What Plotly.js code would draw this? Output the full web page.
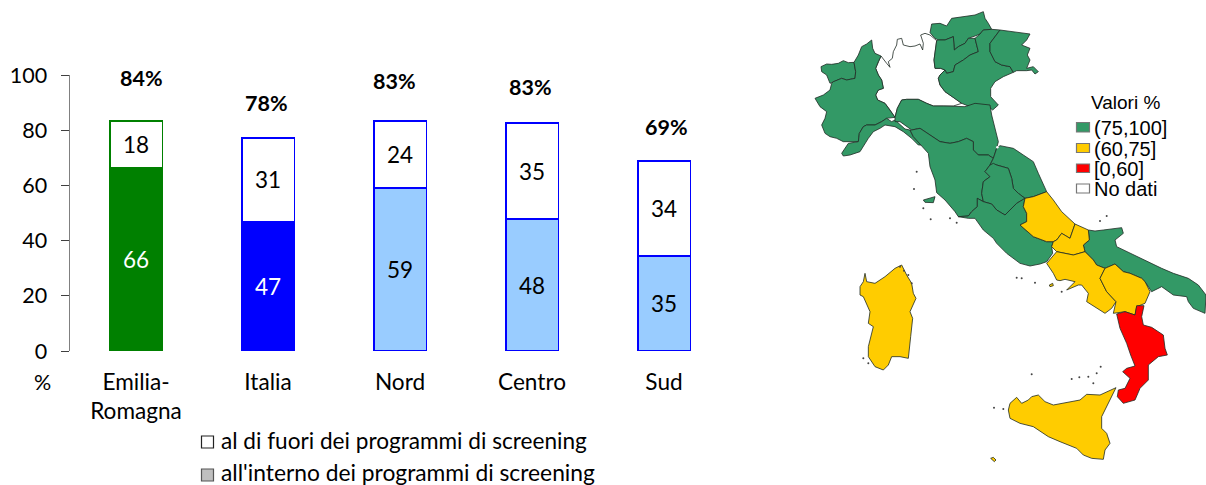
<!DOCTYPE html>
<html>
<head>
<meta charset="utf-8">
<script src="https://cdn.plot.ly/plotly-3.0.1.min.js"></script>
<style>html,body{margin:0;padding:0;background:#fff}#c{width:1206px;height:485px}</style>
</head>
<body>
<div id="c"></div>
<script>
// ---- chart data ----
const categories = ["Emilia-<br>Romagna", "Italia", "Nord", "Centro", "Sud"];
const interno = [66.3, 46.7, 59.0, 47.8, 34.4];
const fuori = [17.0, 30.6, 24.3, 34.8, 34.4];
const internoLabels = ["66", "47", "59", "48", "35"];
const fuoriLabels = ["18", "31", "24", "35", "34"];
const totalLabels = ["84%", "78%", "83%", "83%", "69%"];
const legendLabels = ["al di fuori dei programmi di screening", "all'interno dei programmi di screening"];
const mapLegendLabels = ["(75,100]", "(60,75]", "[0,60]", "No dati"];

// ---- map data: region outlines in map grid units ----
const aosta = [[63,200],[80,192],[95,193],[115,190],[130,182],[145,188],[162,187],[167,215],[165,235],[140,240],[125,235],[100,245],[90,250],[80,225],[65,215]];
const piemonte = [[215,120],[218,145],[225,160],[243,168],[235,185],[227,205],[235,225],[245,240],[250,265],[235,270],[227,285],[233,300],[255,310],[270,330],[285,352],[260,355],[245,365],[225,375],[200,375],[190,380],[178,400],[175,425],[150,425],[130,425],[110,415],[90,410],[75,400],[65,375],[75,355],[80,335],[60,320],[45,295],[70,285],[90,270],[95,250],[100,245],[125,235],[140,240],[165,235],[167,215],[162,187],[175,165],[185,140],[200,132]];
const liguria = [[125,460],[135,445],[145,430],[175,425],[178,400],[190,380],[200,375],[225,375],[245,365],[260,355],[275,365],[285,360],[300,375],[315,387],[330,390],[340,410],[365,435],[355,435],[335,415],[310,395],[285,380],[255,375],[240,385],[220,395],[205,415],[190,440],[180,455],[150,465],[130,468]];
const lombardia = [[243,168],[255,185],[260,190],[270,202],[265,185],[277,175],[280,155],[290,135],[292,118],[305,115],[310,135],[330,140],[345,138],[360,132],[368,150],[370,130],[362,105],[375,100],[390,105],[402,115],[410,122],[402,180],[405,205],[422,205],[435,210],[420,225],[415,235],[420,255],[435,275],[460,292],[485,310],[460,318],[430,318],[400,318],[380,310],[355,298],[320,298],[305,300],[292,325],[285,352],[270,330],[255,310],[233,300],[227,285],[235,270],[250,265],[245,240],[235,225],[227,205],[235,185]];
const bolzano = [[390,98],[395,72],[420,70],[440,78],[455,55],[485,50],[525,45],[550,35],[555,55],[565,70],[575,88],[550,90],[540,102],[525,108],[505,115],[495,130],[475,140],[463,150],[460,110],[435,120],[415,120],[405,115]];
const trento = [[410,122],[415,120],[435,120],[460,110],[463,150],[475,140],[495,130],[505,115],[525,115],[530,140],[535,155],[510,165],[490,180],[465,195],[460,215],[440,220],[435,210],[422,205],[405,205],[402,180]];
const veneto = [[435,210],[440,220],[460,215],[465,195],[490,180],[510,165],[535,155],[525,115],[540,102],[550,90],[575,88],[600,90],[585,110],[570,130],[570,155],[585,185],[605,195],[630,200],[640,217],[610,230],[585,245],[572,265],[572,290],[595,315],[578,330],[565,320],[540,313],[510,320],[485,310],[460,292],[435,275],[420,255],[415,235],[420,225]];
const friuli = [[600,90],[630,95],[660,98],[690,102],[680,120],[665,135],[690,145],[682,165],[690,180],[680,205],[700,200],[715,215],[705,222],[695,210],[680,212],[650,212],[640,217],[630,200],[605,195],[585,185],[570,155],[570,130],[585,110]];
const emilia = [[292,325],[305,300],[320,298],[355,298],[380,310],[400,318],[430,318],[460,318],[495,320],[525,310],[570,315],[575,345],[585,390],[595,425],[590,445],[580,475],[565,465],[535,465],[520,450],[520,425],[500,415],[475,425],[450,430],[420,425],[390,405],[360,385],[335,390],[320,380],[300,365],[285,365],[285,352]];
const toscana = [[335,390],[360,385],[390,405],[420,425],[450,430],[475,425],[500,415],[520,425],[520,450],[535,465],[565,465],[580,475],[570,495],[555,515],[570,530],[550,545],[545,580],[550,605],[532,595],[532,620],[515,635],[505,648],[475,650],[465,635],[435,600],[410,578],[405,540],[390,500],[385,460],[368,440],[340,410],[330,390]];
const marche = [[590,445],[600,437],[615,440],[640,445],[670,465],[700,485],[715,520],[740,575],[700,590],[675,595],[655,580],[640,565],[635,535],[625,505],[590,495],[580,495],[570,495],[580,475]];
const umbria = [[570,495],[580,490],[590,495],[625,505],[635,535],[640,565],[655,580],[675,595],[650,610],[615,645],[590,630],[575,612],[550,605],[545,580],[550,545],[570,530],[555,515]];
const lazio = [[532,595],[550,605],[575,612],[590,630],[615,645],[650,610],[675,595],[670,620],[680,640],[680,665],[660,675],[700,710],[740,725],[760,725],[755,740],[758,760],[740,785],[720,792],[690,798],[660,790],[620,760],[590,730],[580,715],[550,690],[525,655],[505,655],[475,650],[505,648],[515,635],[532,620]];
const abruzzo = [[740,575],[760,600],[785,635],[825,672],[810,715],[785,700],[770,720],[760,725],[740,725],[700,710],[660,675],[680,665],[680,640],[670,620],[675,595],[700,590]];
const molise = [[825,672],[865,690],[868,720],[850,735],[855,755],[820,765],[770,755],[755,740],[760,725],[770,720],[785,700],[810,715]];
const puglia = [[865,690],[885,693],[910,690],[940,687],[965,683],[970,700],[950,715],[945,720],[950,740],[990,760],[1050,790],[1085,805],[1120,820],[1165,835],[1195,855],[1218,885],[1215,940],[1180,925],[1165,905],[1160,890],[1120,885],[1085,860],[1055,875],[1035,845],[1025,835],[990,820],[970,815],[945,792],[915,805],[890,795],[880,780],[855,755],[850,735],[868,720]];
const campania = [[770,755],[820,765],[855,755],[880,780],[890,795],[915,805],[900,835],[920,875],[948,905],[935,925],[915,940],[890,925],[860,905],[865,880],[845,855],[835,855],[800,870],[825,845],[795,838],[780,842],[770,840],[760,820],[740,790]];
const basilicata = [[915,805],[945,792],[970,815],[990,820],[1025,835],[1035,845],[1050,875],[1035,910],[1010,920],[1005,945],[975,935],[940,940],[948,905],[920,875],[900,835]];
const calabria = [[950,942],[975,935],[1005,945],[1010,917],[1032,917],[1025,950],[1030,975],[1055,982],[1090,1005],[1095,1045],[1102,1065],[1075,1070],[1045,1095],[1045,1140],[1020,1165],[1005,1200],[970,1210],[952,1190],[955,1170],[975,1165],[990,1135],[968,1115],[980,1105],[1005,1098],[992,1065],[980,1030],[960,985]];
const sicilia = [[625,1230],[630,1210],[650,1192],[665,1210],[685,1200],[695,1190],[715,1185],[735,1205],[760,1215],[800,1207],[840,1200],[860,1183],[900,1185],[948,1163],[930,1200],[905,1250],[905,1285],[920,1300],[930,1330],[915,1350],[910,1378],[875,1375],[850,1365],[830,1345],[780,1325],[745,1310],[700,1280],[660,1270],[630,1255]];
const sardegna = [[180,860],[190,845],[195,820],[200,845],[225,850],[255,830],[285,805],[305,795],[320,825],[335,850],[340,880],[348,895],[330,935],[338,955],[332,1010],[325,1075],[300,1070],[275,1070],[265,1095],[250,1110],[225,1100],[205,1070],[205,1040],[215,1000],[220,980],[205,970],[210,935],[190,890],[180,885]];
const elba = [[370,600],[405,590],[400,608],[375,607]];
const lampedusa = [[572,1375],[580,1372],[588,1380],[583,1385]];
const ischia = [[748,855],[758,850],[760,857],[750,860]];
const greenRegions = [aosta, piemonte, liguria, bolzano, trento, veneto, friuli, emilia, toscana, marche, umbria, lazio, puglia, elba];
const yellowRegions = [abruzzo, molise, campania, basilicata, sicilia, sardegna, lampedusa, ischia];
const redRegions = [calabria];
const whiteRegions = [lombardia];
const islandsX = [342,350,370,392,450,470,900,920,650,665,705,785,695,815,838,865,880,890,902,582,610,300,312,325,335,190,205];
const islandsY = [567,515,625,658,655,668,663,648,833,835,848,875,1123,1137,1132,1130,1150,1120,1100,1223,1227,800,812,825,850,1075,1090];
const sanMarinoX = [592];
const sanMarinoY = [442];

// ---- palette and helpers ----
const green = "#339966", yellow = "#FFCC00", red = "#FF0000";
const barColors = ["#008000", "#0000FF", "#99CCFF", "#99CCFF", "#99CCFF"];
const lineColors = ["#008000", "#0000FF", "#0000FF", "#0000FF", "#0000FF"];
const labelColors = ["#FFFFFF", "#FFFFFF", "#000000", "#000000", "#000000"];
const chartFont = "Lato, Carlito, Calibri, sans-serif";
const mapFont = "'Liberation Sans', Arial, sans-serif";
const idx = categories.map((_, i) => i);

function regionTrace(poly, fill) {
  const p = poly.concat([poly[0]]);
  return {
    type: "scatter", mode: "lines", xaxis: "x2", yaxis: "y2",
    x: p.map(q => q[0]), y: p.map(q => q[1]),
    fill: "toself", fillcolor: fill,
    line: {color: "#1f2b25", width: 0.8},
    hoverinfo: "skip", showlegend: false
  };
}

const traces = [
  {type: "bar", x: idx, y: interno, width: 0.4, text: internoLabels, textposition: "inside",
   insidetextanchor: "middle", constraintext: "none", cliponaxis: false,
   textfont: {family: chartFont, size: 22.5, color: labelColors},
   marker: {color: barColors, line: {color: lineColors, width: 1.8}},
   hoverinfo: "skip", showlegend: false},
  {type: "bar", x: idx, y: fuori, width: 0.4, text: fuoriLabels, textposition: "inside",
   insidetextanchor: "middle", constraintext: "none", cliponaxis: false,
   textfont: {family: chartFont, size: 22.5, color: "#000000"},
   marker: {color: "#FFFFFF", line: {color: lineColors, width: 1.8}},
   hoverinfo: "skip", showlegend: false}
];
whiteRegions.forEach(r => traces.push(regionTrace(r, "#FFFFFF")));
greenRegions.forEach(r => traces.push(regionTrace(r, green)));
yellowRegions.forEach(r => traces.push(regionTrace(r, yellow)));
redRegions.forEach(r => traces.push(regionTrace(r, red)));
traces.push({type: "scatter", mode: "markers", xaxis: "x2", yaxis: "y2", x: islandsX, y: islandsY,
  marker: {size: 2, color: "#444444"}, hoverinfo: "skip", showlegend: false});
traces.push({type: "scatter", mode: "markers", xaxis: "x2", yaxis: "y2", x: sanMarinoX, y: sanMarinoY,
  marker: {size: 2.5, color: "#FFFFFF"}, hoverinfo: "skip", showlegend: false});

const W = 1206, H = 485;
const px = v => v / W, py = v => 1 - v / H;
const totalY = [99.0, 89.9, 97.9, 95.7, 81.2];
const totalDX = [0.04, -0.01, -0.04, -0.015, 0.02];

const annotations = totalLabels.map((t, i) => ({
  x: i + totalDX[i], y: totalY[i], xref: "x", yref: "y", text: "<b>" + t + "</b>", showarrow: false,
  font: {family: chartFont, size: 21.5, color: "#000"}, xanchor: "center", yanchor: "middle"
}));
annotations.push({x: px(42), y: py(382), xref: "paper", yref: "paper", text: "%", showarrow: false,
  font: {family: chartFont, size: 21.5, color: "#000"}, xanchor: "center", yanchor: "middle"});
annotations.push({x: px(219), y: py(440), xref: "paper", yref: "paper", text: legendLabels[0], showarrow: false,
  font: {family: chartFont, size: 22.6, color: "#000"}, xanchor: "left", yanchor: "middle"});
annotations.push({x: px(219), y: py(472), xref: "paper", yref: "paper", text: legendLabels[1], showarrow: false,
  font: {family: chartFont, size: 22.8, color: "#000"}, xanchor: "left", yanchor: "middle"});
annotations.push({x: px(1125), y: py(102), xref: "paper", yref: "paper", text: "Valori %", showarrow: false,
  font: {family: mapFont, size: 19, color: "#000"}, xanchor: "center", yanchor: "middle"});
const mapLegY = [128, 148.5, 169, 189.5];
mapLegY.forEach((yy, i) => annotations.push({
  x: px(1092), y: py(yy), xref: "paper", yref: "paper", text: mapLegendLabels[i], showarrow: false,
  font: {family: mapFont, size: 20, color: "#000"}, xanchor: "left", yanchor: "middle"
}));

const swatch = (x0, y0, x1, y1, fill, line) => ({
  type: "rect", xref: "paper", yref: "paper", x0: px(x0), x1: px(x1), y0: py(y1), y1: py(y0),
  fillcolor: fill, line: {color: line, width: 1.2}
});
const shapes = [
  swatch(201.5, 436, 213.5, 448, "#FFFFFF", "#222222"),
  swatch(201.5, 469, 213.5, 481, "#BFBFBF", "#555555"),
  swatch(1076.5, 122.5, 1089.5, 132, green, "#777777"),
  swatch(1076.5, 143.5, 1089.5, 152.5, yellow, "#777777"),
  swatch(1076.5, 164, 1089.5, 172.5, red, "#777777"),
  swatch(1076.5, 184, 1089.5, 193, "#FFFFFF", "#777777")
];

const layout = {
  width: W, height: H, margin: {l: 0, r: 0, t: 0, b: 0}, paper_bgcolor: "#fff", plot_bgcolor: "rgba(0,0,0,0)",
  barmode: "stack", showlegend: false, annotations, shapes,
  xaxis: {domain: [px(70), px(730)], range: [-0.5, 4.5], tickmode: "array", tickvals: idx, ticktext: categories,
    ticks: "", showgrid: false, zeroline: false, showline: false, ticklabelstandoff: 15,
    tickfont: {family: chartFont, size: 22.6, color: "#000"}, tickangle: 0, anchor: "y", fixedrange: true},
  yaxis: {domain: [py(351), py(75)], range: [0, 100], tickvals: [0, 20, 40, 60, 80, 100], ticks: "outside", ticklen: 8,
    tickwidth: 1, tickcolor: "#404040", showline: true, linecolor: "#808080", linewidth: 1.5, showgrid: false,
    zeroline: false, ticklabelstandoff: 9, tickfont: {family: chartFont, size: 21.5, color: "#000"}, anchor: "x", fixedrange: true},
  xaxis2: {domain: [px(800), 1], range: [0, 1218], visible: false, anchor: "y2", fixedrange: true},
  yaxis2: {domain: [0, 1], range: [1455, 0], visible: false, anchor: "x2", fixedrange: true}
};
Plotly.newPlot("c", traces, layout, {staticPlot: true, displayModeBar: false});
</script>
</body>
</html>
